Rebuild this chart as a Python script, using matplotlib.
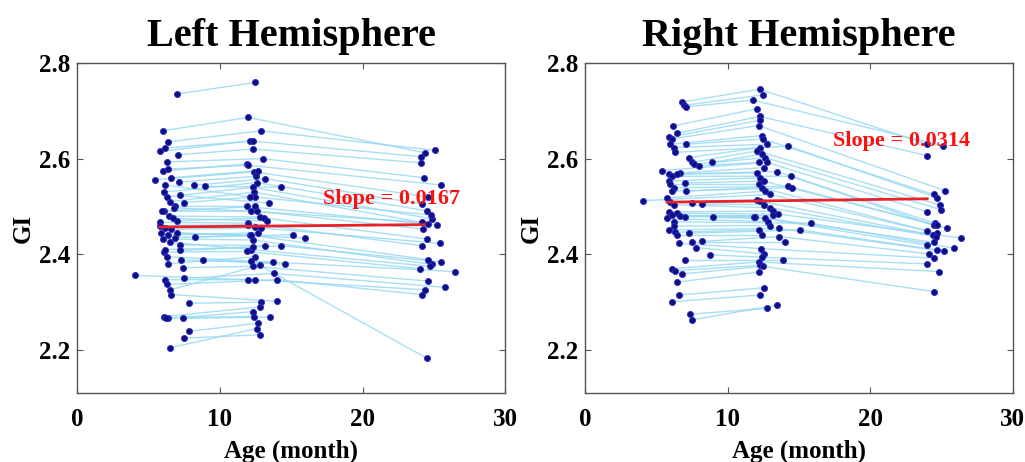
import numpy as np
import matplotlib
matplotlib.use("Agg")
import matplotlib.pyplot as plt

nan = np.nan

# ---------------- Left hemisphere (one entry per subject) ----------------
left_age_v1 = [7.0, 6.0, 6.4, 5.85, 6.2, 7.1, 6.3, 6.05, 6.35, 5.45, 7.15, 8.95, 8.2, 6.1, 6.3, 6.55,
               7.25, 7.5, 6.9, 6.8, 6.1, 6.45, 7.0, 5.85, 6.2, 6.6, 5.9, 6.0, 6.5, 7.2, 7.25, 6.1,
               6.3, 7.3, 8.85, 7.4, 7.5, 4.1, 6.2, 6.3, 6.55, 6.6, 7.85, 6.1, 6.4, 6.25, 7.4, 7.85,
               7.5, 6.55, 5.8, 6.4, 6.9, 5.95, 6.6, 6.2, 6.7, 8.3, 7.0, 6.15, 6.35]
left_gi_v1 = [2.735, 2.658, 2.635, 2.615, 2.622, 2.608, 2.593, 2.574, 2.578, 2.556, 2.551, 2.542, 2.544,
              2.530, 2.520, 2.510, 2.523, 2.508, 2.500, 2.497, 2.490, 2.480, 2.470, 2.467, 2.456, 2.452,
              2.445, 2.432, 2.425, 2.420, 2.408, 2.405, 2.395, 2.388, 2.388, 2.372, 2.350, 2.356, 2.347,
              2.337, 2.326, 2.316, 2.298, 2.270, 2.266, 2.268, 2.266, 2.239, 2.225, 2.205, 2.460, 2.440,
              2.435, 2.490, 2.560, 2.545, 2.475, 2.436, 2.445, 2.410, 2.380]
left_age_v2 = [12.5, 12.0, 12.9, 12.15, 12.35, 12.3, 13.0, 11.9, 12.0, 12.4, 12.55, 14.3, 13.2, 12.6,
               12.3, 12.4, 13.45, 12.45, 11.9, 12.2, 12.6, 12.8, 13.1, 12.0, 12.5, 12.9, 12.1, 12.3,
               12.2, 13.2, 14.3, 11.9, 12.2, 13.7, 14.6, 12.3, 13.8, 12.0, 12.45, 14.0, 12.8, 14.0,
               12.9, 12.8, 12.3, 12.4, 13.5, 12.65, 12.8, 12.6, 12.0, 12.7, 12.2, 12.5, 12.7, 12.1,
               13.3, 15.15, 16.0, 12.3, 12.5]
left_gi_v2 = [2.759, 2.686, 2.658, 2.637, 2.637, 2.620, 2.600, 2.589, 2.586, 2.572, 2.563, 2.540, 2.558,
              2.550, 2.540, 2.530, 2.507, 2.520, 2.500, 2.490, 2.490, 2.478, 2.476, 2.465, 2.458, 2.455,
              2.440, 2.430, 2.410, 2.418, 2.418, 2.406, 2.386, 2.383, 2.379, 2.375, 2.360, 2.347, 2.347,
              2.347, 2.377, 2.302, 2.300, 2.290, 2.280, 2.270, 2.269, 2.256, 2.232, 2.245, 2.462, 2.445,
              2.440, 2.500, 2.575, 2.520, 2.470, 2.441, 2.434, 2.415, 2.395]
left_age_v3 = [nan, 24.4, 25.1, 24.1, nan, 24.1, 24.3, nan, 25.5, 24.6, nan, nan, 24.2, 24.5, 24.9, 25.2,
               nan, 24.8, 24.6, 24.15, 24.25, nan, 24.5, 24.15, nan, 25.4, 24.6, 24.85, 24.7, nan, 25.5,
               24.0, 26.5, nan, nan, 24.6, 25.8, nan, 24.4, 24.15, 24.5, nan, nan, nan, nan, nan, nan,
               nan, nan, nan, nan, nan, nan, nan, nan, nan, nan, nan, nan, nan, nan]
left_gi_v3 = [nan, 2.612, 2.617, 2.604, nan, 2.591, 2.560, nan, 2.545, 2.520, nan, nan, 2.505, 2.491, 2.474,
              2.461, nan, 2.482, 2.463, 2.467, 2.453, nan, 2.432, 2.418, nan, 2.423, 2.389, 2.379, 2.375,
              nan, 2.384, 2.370, 2.364, nan, nan, 2.344, 2.331, nan, 2.326, 2.316, 2.183, nan, nan, nan,
              nan, nan, nan, nan, nan, nan, nan, nan, nan, nan, nan, nan, nan, nan, nan, nan, nan]
left_fit_age = [5.8, 24.3]
left_fit_gi = [2.457, 2.462]
left_slope_label = "Slope = 0.0167"

# ---------------- Right hemisphere (one entry per subject) ----------------
right_age_v1 = [6.78, 6.90, 7.05, 6.15, 6.45, 5.90, 6.10, 5.96, 7.06, 6.20, 6.31, 7.25, 7.48, 8.90, 7.60,
                7.95, 5.38, 6.66, 6.43, 5.85, 6.08, 5.85, 7.01, 5.96, 6.20, 6.08, 7.08, 5.73, 4.02, 5.96,
                7.48, 8.18, 6.20, 5.85, 6.43, 6.08, 6.66, 7.01, 8.95, 5.73, 6.20, 6.20, 5.85, 6.30, 7.25,
                6.43, 8.18, 7.48, 6.55, 7.79, 8.72, 7.01, 6.08, 6.31, 6.78, 6.43, 6.55, 6.08, 7.37, 7.48]
right_gi_v1 = [2.718, 2.711, 2.708, 2.668, 2.653, 2.645, 2.641, 2.630, 2.630, 2.623, 2.613, 2.602, 2.592,
               2.592, 2.588, 2.585, 2.575, 2.570, 2.568, 2.567, 2.563, 2.553, 2.549, 2.546, 2.539, 2.532,
               2.532, 2.518, 2.512, 2.509, 2.507, 2.505, 2.504, 2.489, 2.486, 2.482, 2.480, 2.479, 2.477,
               2.475, 2.468, 2.459, 2.451, 2.446, 2.444, 2.440, 2.427, 2.425, 2.423, 2.414, 2.399, 2.389,
               2.370, 2.366, 2.359, 2.342, 2.315, 2.301, 2.275, 2.263]
right_age_v2 = [12.23, 12.46, 11.76, 12.04, 12.27, 12.27, 12.16, 12.39, 12.46, 12.74, 14.26, 12.27, 12.04,
                12.39, 12.63, 12.16, 12.74, 12.51, 13.44, 12.04, 14.43, 12.27, 12.51, 12.16, 14.26, 14.50,
                12.39, 12.63, 12.98, 12.04, 12.27, 12.51, 12.98, 13.21, 13.56, 13.21, 11.92, 11.81, 12.63,
                12.86, 15.83, 12.98, 13.58, 12.16, 15.08, 12.39, 13.63, 14.03, 12.32, 12.51, 12.39, 13.86,
                12.16, 12.27, 12.46, 12.16, 12.51, 12.23, 12.74, 13.44]
right_gi_v2 = [2.745, 2.733, 2.722, 2.704, 2.688, 2.680, 2.669, 2.648, 2.641, 2.630, 2.626, 2.623, 2.616,
               2.609, 2.602, 2.592, 2.592, 2.581, 2.573, 2.570, 2.563, 2.560, 2.553, 2.546, 2.542, 2.539,
               2.539, 2.532, 2.525, 2.514, 2.511, 2.504, 2.497, 2.490, 2.484, 2.482, 2.479, 2.477, 2.475,
               2.468, 2.465, 2.460, 2.454, 2.451, 2.451, 2.440, 2.437, 2.425, 2.412, 2.401, 2.394, 2.389,
               2.384, 2.377, 2.375, 2.363, 2.330, 2.315, 2.287, 2.294]
right_age_v3 = [24.0, nan, 25.1, nan, 24.0, nan, 25.25, nan, 24.45, nan, 24.7, nan, 24.9, nan, 25.0, nan,
                24.0, nan, 24.55, nan, 24.45, nan, 24.7, nan, 25.4, nan, 24.0, nan, 24.7, nan, 24.4, nan,
                24.6, nan, 26.4, nan, 24.45, nan, 24.0, nan, 25.85, nan, 24.7, nan, 25.15, nan, 24.1, nan,
                24.45, nan, 24.0, nan, 24.85, nan, 24.5, nan, nan, nan, nan, nan]
right_gi_v3 = [2.630, nan, 2.627, nan, 2.606, nan, 2.533, nan, 2.525, nan, 2.518, nan, 2.503, nan, 2.493,
               nan, 2.489, nan, 2.465, nan, 2.461, nan, 2.461, nan, 2.454, nan, 2.449, nan, 2.444, nan,
               2.440, nan, 2.437, nan, 2.434, nan, 2.425, nan, 2.419, nan, 2.413, nan, 2.408, nan, 2.407,
               nan, 2.401, nan, 2.392, nan, 2.380, nan, 2.364, nan, 2.322, nan, nan, nan, nan, nan]
right_fit_age = [5.75, 24.0]
right_fit_gi = [2.509, 2.516]
right_slope_label = "Slope = 0.0314"

titles = ["Left Hemisphere", "Right Hemisphere"]
x_ticks = [0, 10, 20, 30]
y_ticks = [2.2, 2.4, 2.6, 2.8]
y_tick_labels = ["2.2", "2.4", "2.6", "2.8"]

plt.rcParams['font.family'] = ['Liberation Serif', 'DejaVu Serif']
plt.rcParams['font.weight'] = 'bold'

fig = plt.figure(figsize=(10.25, 4.62), dpi=100)
ax_l = fig.add_axes([0.075, 0.149, 0.418, 0.715])
ax_r = fig.add_axes([0.571, 0.149, 0.417, 0.715])

LINE_C = '#92d8f2'
DOT_FACE = '#10107a'
DOT_EDGE = '#2a2ad8'


def draw(ax, a1, g1, a2, g2, a3, g3, fa, fg, label, lx, ly, title):
    a1, g1, a2, g2, a3, g3 = map(np.asarray, (a1, g1, a2, g2, a3, g3))
    for i in range(len(a1)):
        xs = [a1[i], a2[i], a3[i]]
        ys = [g1[i], g2[i], g3[i]]
        pts = [(x, y) for x, y in zip(xs, ys) if not np.isnan(x)]
        if len(pts) > 1:
            px, py = zip(*pts)
            ax.plot(px, py, color=LINE_C, lw=1.0, alpha=0.8, zorder=1)
    allx = np.concatenate([a1, a2, a3])
    ally = np.concatenate([g1, g2, g3])
    ax.plot(allx, ally, 'o', ms=4.4, mfc=DOT_FACE, mec=DOT_EDGE, mew=0.6, ls='none', zorder=3)
    ax.plot(fa, fg, color='#e8222a', lw=2.0, zorder=4)
    ax.text(lx, ly, label, color='#ff1010', fontsize=16, fontweight='bold', zorder=5)
    ax.set_xlim(0, 30)
    ax.set_ylim(2.11, 2.8)
    ax.set_xticks(x_ticks)
    ax.set_yticks(y_ticks)
    ax.set_yticklabels(y_tick_labels)
    ax.tick_params(direction='in', top=True, right=True, length=4, width=0.8, color='#555555',
                   labelsize=18)
    ax.tick_params(axis='x', pad=11)
    ax.tick_params(axis='y', pad=5)
    for sp in ax.spines.values():
        sp.set_color('#555555')
        sp.set_linewidth(1.0)
    ax.set_xlabel('Age (month)', fontsize=18, fontweight='bold', labelpad=6)
    ax.set_ylabel('GI', fontsize=18, fontweight='bold', labelpad=3)
    ax.set_title(title, fontsize=29, fontweight='bold', pad=12)


draw(ax_l, left_age_v1, left_gi_v1, left_age_v2, left_gi_v2, left_age_v3, left_gi_v3,
     left_fit_age, left_fit_gi, left_slope_label, 17.2, 2.505, titles[0])
draw(ax_r, right_age_v1, right_gi_v1, right_age_v2, right_gi_v2, right_age_v3, right_gi_v3,
     right_fit_age, right_fit_gi, right_slope_label, 17.4, 2.627, titles[1])

fig.savefig('out.png', dpi=100)
